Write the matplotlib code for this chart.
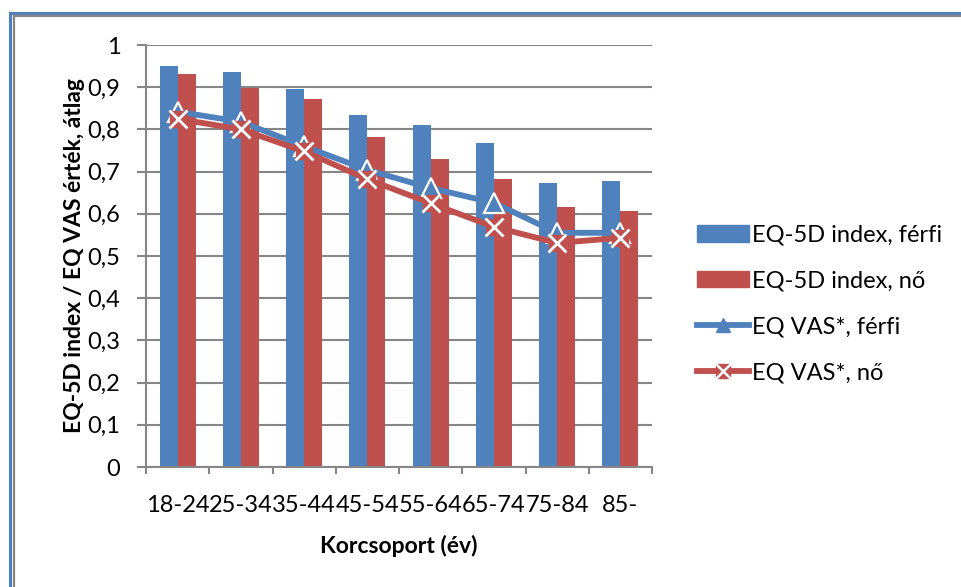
import matplotlib
matplotlib.use("Agg")
import matplotlib.pyplot as plt
from matplotlib.lines import Line2D
from matplotlib.patches import Patch
import numpy as np

plt.rcParams['font.family'] = ['Lato', 'DejaVu Sans']

categories = ["18-24", "25-34", "35-44", "45-54", "55-64", "65-74", "75-84", "85-"]
eq5d_ferfi = [0.950, 0.936, 0.895, 0.834, 0.810, 0.768, 0.673, 0.678]
eq5d_no = [0.932, 0.899, 0.871, 0.782, 0.730, 0.682, 0.616, 0.607]
vas_ferfi = [0.842, 0.818, 0.760, 0.704, 0.661, 0.626, 0.555, 0.555]
vas_no = [0.825, 0.800, 0.748, 0.682, 0.625, 0.569, 0.531, 0.543]
yticks = [0, 0.1, 0.2, 0.3, 0.4, 0.5, 0.6, 0.7, 0.8, 0.9, 1.0]

BLUE = "#4F81BD"
RED = "#C0504D"
GRID = "#868686"
FS = 17

fig = plt.figure(figsize=(9.61, 5.87), dpi=100)
ax = fig.add_axes([146 / 961, 1 - 467 / 587, 506 / 961, 422 / 587])

x = np.arange(len(categories))
bw = 0.285
ax.bar(x - bw / 2, eq5d_ferfi, bw, color=BLUE, zorder=2)
ax.bar(x + bw / 2, eq5d_no, bw, color=RED, zorder=2)

ax.plot(x, vas_ferfi, color=BLUE, lw=4.2, marker='^', ms=15, mfc=BLUE,
        mec='white', mew=1.6, zorder=3, solid_capstyle='round')
ax.plot(x, vas_no, color=RED, lw=4.2, zorder=4, solid_capstyle='round')
ax.plot(x, vas_no, ls='none', marker='s', ms=11.5, mfc=RED, mec=RED, zorder=5)
ax.plot(x, vas_no, ls='none', marker='x', ms=13.5, mec='white', mew=2.0, zorder=6)

ax.set_xlim(-0.5, len(categories) - 0.5)
ax.set_ylim(0, 1)
ax.set_yticks(yticks)
ax.set_yticklabels([("%g" % v).replace('.', ',') for v in yticks])
ax.set_xticks(x)
ax.set_xticklabels(categories)
ax.set_xticks(np.arange(len(categories) + 1) - 0.5, minor=True)
ax.tick_params(axis='x', which='major', length=0, pad=20, labelsize=FS)
ax.tick_params(axis='x', which='minor', length=5, width=1.5, color=GRID)
ax.tick_params(axis='y', length=6.5, width=1.5, color=GRID, pad=12, labelsize=FS)

ax.yaxis.grid(True, color=GRID, lw=1.5, zorder=0)
ax.set_axisbelow(True)
for s in ['top', 'right']:
    ax.spines[s].set_visible(False)
for s in ['left', 'bottom']:
    ax.spines[s].set_color(GRID)
    ax.spines[s].set_linewidth(1.5)

ax.set_xlabel("Korcsoport (év)", fontsize=16.5, fontweight='bold', labelpad=14)
ax.set_ylabel("EQ-5D index / EQ VAS érték, átlag", fontsize=16.5,
              fontweight='bold', labelpad=2)

vas_no_handle = (
    Line2D([], [], color=RED, lw=4.2, marker='s', ms=10, mfc=RED, mec=RED),
    Line2D([], [], ls='none', marker='x', ms=11, mec='white', mew=1.8),
)
handles = [
    Patch(color=BLUE),
    Patch(color=RED),
    Line2D([], [], color=BLUE, lw=4.2, marker='^', ms=10, mfc=BLUE, mec=BLUE),
    vas_no_handle,
]
labels = ["EQ-5D index, férfi", "EQ-5D index, nő", "EQ VAS*, férfi", "EQ VAS*, nő"]
fig.legend(handles, labels, loc='center left', bbox_to_anchor=(697 / 961, 1 - 304 / 587),
           frameon=False, fontsize=FS, handlelength=2.2, handleheight=0.67,
           labelspacing=1.05, handletextpad=0.15, borderpad=0, borderaxespad=0)

# outer frame lines
fig.add_artist(Line2D([10 / 961, 10 / 961], [0, 1 - 13 / 587], color=BLUE, lw=2.2,
                      transform=fig.transFigure))
fig.add_artist(Line2D([10 / 961, 1], [1 - 13 / 587, 1 - 13 / 587], color=BLUE, lw=2.2,
                      transform=fig.transFigure))
fig.add_artist(Line2D([14 / 961, 14 / 961], [0, 1 - 16 / 587], color=GRID, lw=1.6,
                      transform=fig.transFigure))
fig.add_artist(Line2D([14 / 961, 1], [1 - 16 / 587, 1 - 16 / 587], color=GRID, lw=1.6,
                      transform=fig.transFigure))

fig.savefig("out.png", dpi=100)
